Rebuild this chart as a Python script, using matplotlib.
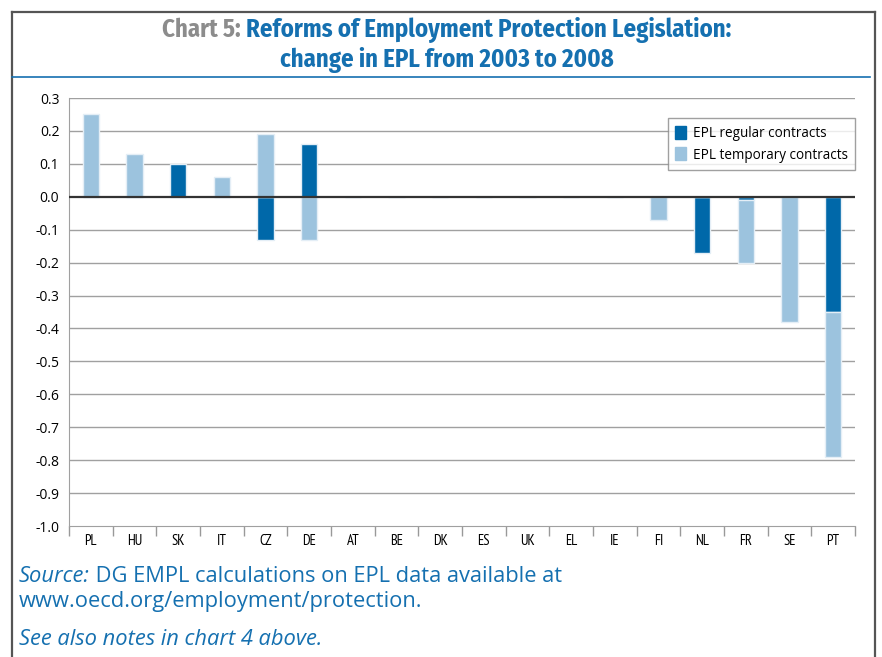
import matplotlib
matplotlib.use("Agg")
import matplotlib.pyplot as plt
import numpy as np
from matplotlib.patches import Patch
from matplotlib.lines import Line2D

countries = ["PL", "HU", "SK", "IT", "CZ", "DE", "AT", "BE", "DK", "ES", "UK",
             "EL", "IE", "FI", "NL", "FR", "SE", "PT"]
epl_regular = [0.0, 0.0, 0.10, 0.0, -0.13, 0.16, 0.0, 0.0, 0.0, 0.0, 0.0,
               0.0, 0.0, 0.0, -0.17, -0.01, 0.0, -0.35]
epl_temporary = [0.25, 0.13, 0.0, 0.06, 0.19, -0.13, 0.0, 0.0, 0.0, 0.0, 0.0,
                 0.0, 0.0, -0.07, 0.0, -0.19, -0.38, -0.44]
yticks = [0.3, 0.2, 0.1, 0.0, -0.1, -0.2, -0.3, -0.4, -0.5, -0.6, -0.7, -0.8, -0.9, -1.0]

DARK = "#0068A9"
LIGHT = "#9CC3DE"
EDGE = "#E4EEF6"
BLUE_TXT = "#1570B0"
NARROW = ["PT Sans Narrow", "DejaVu Sans"]
TITLEF = ["Fira Sans Condensed", "DejaVu Sans"]
SANS = ["Open Sans", "DejaVu Sans"]
W, H = 882, 657

fig = plt.figure(figsize=(W / 100, H / 100), dpi=100)
fig.patch.set_facecolor("white")

def px(x0, y0, x1, y1):
    return [x0 / W, 1 - y1 / H, (x1 - x0) / W, (y1 - y0) / H]

# frame
fig.add_artist(Line2D([12 / W, 12 / W], [0, 1 - 12 / H], color="#555555", lw=1.6))
fig.add_artist(Line2D([12 / W, 875 / W], [1 - 12 / H, 1 - 12 / H], color="#555555", lw=1.6))
fig.add_artist(Line2D([875 / W, 875 / W], [0, 1 - 12 / H], color="#555555", lw=1.6))
fig.add_artist(Line2D([12 / W, 870 / W], [1 - 77 / H, 1 - 77 / H], color=BLUE_TXT, lw=1.2))

ax = fig.add_axes(px(69, 98, 855, 526))
x = np.arange(len(countries))
reg = np.array(epl_regular)
tmp = np.array(epl_temporary)
bw = 0.37
ax.bar(x, reg, width=bw, color=DARK, edgecolor=EDGE, linewidth=1, zorder=3)
bottom = np.where(np.sign(reg) == np.sign(tmp), reg, 0.0)
ax.bar(x, tmp, bottom=bottom, width=bw, color=LIGHT, edgecolor=EDGE, linewidth=1, zorder=3)

ax.set_xlim(-0.5, len(countries) - 0.5)
ax.set_ylim(-1.0, 0.3)
ax.set_yticks(yticks)
ax.set_yticklabels([f"{v:.1f}" for v in yticks], fontsize=10, family=SANS)
for v in yticks:
    if v == 0:
        ax.axhline(v, color="#333333", lw=1.6, zorder=4)
    elif v > -1.0:
        ax.axhline(v, color="#A0A0A0", lw=1.0, zorder=1)

ax.set_xticks(x)
ax.set_xticklabels(countries, fontsize=10.5, family=NARROW)
ax.set_xticks(np.arange(-0.5, len(countries)), minor=True)
ax.tick_params(axis="x", which="major", length=0, pad=6)
ax.tick_params(axis="x", which="minor", length=7, direction="out", color="#999999", width=1)
ax.tick_params(axis="y", length=0, pad=7)
for s in ["top", "right"]:
    ax.spines[s].set_visible(False)
ax.spines["left"].set_color("#A0A0A0")
ax.spines["bottom"].set_color("#A0A0A0")

leg = ax.legend(handles=[Patch(color=DARK, label="EPL regular contracts"),
                         Patch(color=LIGHT, label="EPL temporary contracts")],
                loc="upper right", bbox_to_anchor=(1.0, 0.953), borderaxespad=0.0,
                frameon=True, fancybox=False,
                handlelength=0.85, handleheight=1.1, handletextpad=0.45, borderpad=0.55,
                labelspacing=0.5, prop={"family": SANS, "size": 9.75})
leg.get_frame().set_edgecolor("#888888")
leg.get_frame().set_linewidth(1.0)

# title
fig.canvas.draw()
r = fig.canvas.get_renderer()
tf = dict(family=TITLEF, fontsize=17.8, fontweight="bold", va="center", ha="left")
t1 = fig.text(0, 1 - 30 / H, "Chart 5: ", color="#8C8C8C", **tf)
t2 = fig.text(0, 1 - 30 / H, "Reforms of Employment Protection Legislation:", color=BLUE_TXT, **tf)
w1 = t1.get_window_extent(r).width
w2 = t2.get_window_extent(r).width
cx = 447
start = cx - (w1 + w2) / 2
t1.set_x(start / W)
t2.set_x((start + w1) / W)
fig.text(cx / W, 1 - 60 / H, "change in EPL from 2003 to 2008", color=BLUE_TXT, ha="center",
         va="center", family=TITLEF, fontsize=17.8, fontweight="bold")

# footnotes
ff = dict(family=SANS, fontsize=15.75, color=BLUE_TXT, va="baseline", ha="left")
s1 = fig.text(19 / W, 1 - 582 / H, "Source:", style="italic", **ff)
fig.canvas.draw()
ws = s1.get_window_extent(r).width
fig.text((19 + ws) / W, 1 - 582 / H, " DG EMPL calculations on EPL data available at", **ff)
fig.text(19 / W, 1 - 607 / H, "www.oecd.org/employment/protection.", **ff)
fig.text(19 / W, 1 - 645 / H, "See also notes in chart 4 above.", style="italic", **ff)

fig.savefig("out.png", dpi=100)
